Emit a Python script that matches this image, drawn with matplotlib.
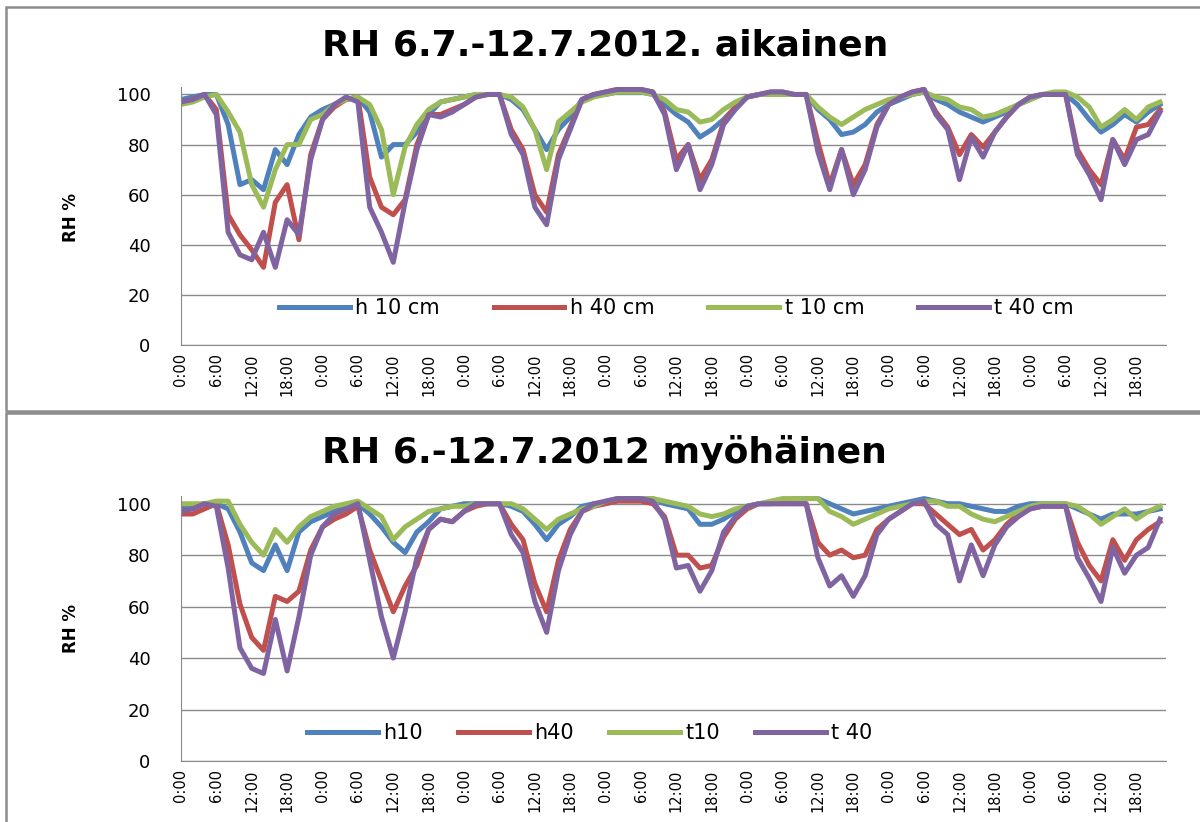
# RH charts, two periods, recreated from the Excel figure

import numpy as np
import matplotlib.pyplot as plt
from matplotlib.patches import Rectangle

# time axis: readings every 2 hours over 7 days
hours = np.arange(0, 168, 2)
tick_hours = np.arange(0, 168, 6)
tick_labels = ['0:00', '6:00', '12:00', '18:00'] * 7

top_title = 'RH 6.7.-12.7.2012. aikainen'
bottom_title = 'RH 6.-12.7.2012 myöhäinen'
top_names = ['h 10 cm', 'h 40 cm', 't 10 cm', 't 40 cm']
bottom_names = ['h10', 'h40', 't10', 't 40']

# top panel (aikainen)
top_h10 = [98, 99, 100, 100, 88, 64, 66, 62, 78, 72, 84, 91, 94, 96, 98, 99, 93, 75, 80, 80, 85, 92, 97, 98, 99, 100, 100, 100,
           98, 94, 86, 78, 86, 91, 98, 100, 100, 101, 101, 101, 100, 96, 92, 89, 83, 86, 90, 95, 99, 100, 100, 100, 100, 100, 94, 90,
           84, 85, 88, 93, 96, 98, 100, 101, 98, 96, 93, 91, 89, 91, 93, 96, 98, 100, 100, 100, 96, 90, 85, 88, 92, 89, 93, 96]
top_h40 = [97, 98, 100, 94, 52, 44, 38, 31, 57, 64, 42, 76, 90, 95, 98, 99, 67, 55, 52, 58, 80, 92, 92, 94, 96, 99, 100, 100,
           86, 78, 60, 53, 76, 87, 98, 100, 101, 102, 102, 102, 101, 93, 74, 80, 66, 74, 89, 95, 99, 100, 101, 101, 100, 100, 81, 64,
           78, 64, 72, 88, 96, 99, 101, 102, 93, 87, 76, 84, 79, 85, 91, 96, 99, 100, 100, 100, 78, 70, 64, 82, 74, 87, 88, 94]
top_t10 = [96, 97, 99, 100, 93, 85, 64, 55, 70, 80, 80, 90, 92, 96, 98, 99, 96, 86, 60, 79, 88, 94, 97, 98, 99, 100, 100, 100,
           99, 95, 86, 70, 89, 93, 97, 99, 100, 101, 101, 101, 100, 98, 94, 93, 89, 90, 94, 97, 99, 100, 100, 100, 100, 100, 95, 91,
           88, 91, 94, 96, 98, 99, 100, 101, 99, 98, 95, 94, 91, 92, 94, 96, 98, 100, 101, 101, 99, 95, 87, 90, 94, 90, 95, 97]
top_t40 = [97, 98, 100, 92, 45, 36, 34, 45, 31, 50, 44, 74, 90, 96, 99, 97, 55, 45, 33, 57, 78, 92, 91, 93, 96, 99, 100, 100,
           84, 76, 55, 48, 74, 86, 98, 100, 101, 102, 102, 102, 101, 92, 70, 80, 62, 72, 88, 94, 99, 100, 101, 101, 100, 100, 77, 62,
           78, 60, 70, 87, 96, 99, 101, 102, 92, 86, 66, 83, 75, 85, 91, 96, 99, 100, 100, 100, 76, 68, 58, 82, 72, 82, 84, 93]

# bottom panel (myöhäinen)
bot_h10 = [98, 99, 100, 100, 98, 89, 77, 74, 84, 74, 89, 93, 95, 97, 99, 100, 96, 91, 85, 81, 89, 93, 98, 99, 100, 100, 100, 100,
           99, 97, 92, 86, 92, 95, 99, 100, 100, 102, 102, 102, 102, 100, 99, 98, 92, 92, 94, 97, 99, 100, 100, 101, 102, 102, 102, 100,
           98, 96, 97, 98, 99, 100, 101, 102, 101, 100, 100, 99, 98, 97, 97, 99, 100, 100, 100, 100, 98, 96, 94, 96, 96, 96, 97, 98]
bot_h40 = [96, 96, 98, 100, 84, 61, 48, 43, 64, 62, 66, 82, 91, 94, 96, 99, 82, 70, 58, 68, 76, 90, 94, 93, 97, 99, 100, 100,
           92, 86, 69, 58, 78, 90, 97, 99, 100, 101, 101, 101, 100, 95, 80, 80, 75, 76, 87, 94, 98, 100, 100, 100, 100, 100, 85, 80,
           82, 79, 80, 90, 94, 97, 100, 100, 96, 92, 88, 90, 82, 86, 92, 96, 98, 99, 99, 99, 85, 76, 70, 86, 78, 86, 90, 93]
bot_t10 = [100, 100, 100, 101, 101, 92, 85, 80, 90, 85, 91, 95, 97, 99, 100, 101, 98, 95, 86, 91, 94, 97, 98, 99, 99, 100, 100, 100,
           100, 98, 94, 90, 94, 96, 98, 99, 101, 102, 102, 102, 102, 101, 100, 99, 96, 95, 96, 98, 99, 100, 101, 102, 102, 102, 102, 97,
           95, 92, 94, 96, 98, 99, 100, 101, 101, 99, 99, 96, 94, 93, 95, 97, 99, 100, 100, 100, 99, 96, 92, 95, 98, 94, 97, 99]
bot_t40 = [97, 98, 100, 99, 75, 44, 36, 34, 55, 35, 56, 80, 91, 96, 98, 100, 78, 56, 40, 58, 79, 90, 94, 93, 97, 100, 100, 100,
           88, 81, 62, 50, 74, 88, 97, 100, 101, 102, 102, 102, 101, 94, 75, 76, 66, 74, 89, 95, 99, 100, 100, 100, 100, 100, 79, 68,
           72, 64, 72, 88, 94, 97, 100, 101, 92, 88, 70, 84, 72, 84, 91, 95, 98, 99, 99, 99, 79, 71, 62, 83, 73, 80, 83, 94]

colors = ['#4F81BD', '#C0504D', '#9BBB59', '#8064A2']
grid_col = '#8a8a8a'

fig = plt.figure(figsize=(12, 8.22), dpi=100)


def draw_panel(rect, series, names, title, title_y, ylabel_y, leg_xy, leg_spacing):
    ax = fig.add_axes(rect)
    for vals, name, c in zip(series, names, colors):
        ax.plot(hours, vals, color=c, lw=3.6, label=name, solid_joinstyle='round')
    ax.set_xlim(0, 167)
    ax.set_ylim(0, 103)
    ax.set_yticks(range(0, 101, 20))
    ax.set_xticks(tick_hours)
    ax.set_xticklabels(tick_labels, rotation=90, fontsize=10.5)
    ax.tick_params(axis='x', length=0, pad=6)
    ax.tick_params(axis='y', length=0, pad=22, labelsize=13)
    ax.yaxis.grid(True, color=grid_col, lw=1)
    ax.set_axisbelow(True)
    for s in ['top', 'right']:
        ax.spines[s].set_visible(False)
    for s in ['left', 'bottom']:
        ax.spines[s].set_color(grid_col)
    ax.legend(loc='center', bbox_to_anchor=leg_xy, ncol=4, frameon=False,
              fontsize=15, handlelength=3.4, handletextpad=0.25,
              columnspacing=leg_spacing)
    fig.text(0.504, title_y, title, ha='center', va='center',
             fontsize=26, fontweight='bold')
    fig.text(0.059, ylabel_y, 'RH %', rotation=90, ha='center', va='center',
             fontsize=12, fontweight='bold')
    return ax


draw_panel([0.1508, 0.5803, 0.8208, 0.3139],
           [top_h10, top_h40, top_t10, top_t40], top_names, top_title,
           0.945, 0.736, (0.503, 0.143), 2.6)
draw_panel([0.1508, 0.0742, 0.8208, 0.3224],
           [bot_h10, bot_h40, bot_t10, bot_t40], bottom_names, bottom_title,
           0.450, 0.236, (0.415, 0.106), 1.7)

# chart area borders
fig.add_artist(Rectangle((0.005, 0.5), 1.2, 0.4915, transform=fig.transFigure,
                         fill=False, edgecolor='#8c8c8c', lw=1.8))
fig.add_artist(Rectangle((0.005, -0.1), 1.2, 0.5976, transform=fig.transFigure,
                         fill=False, edgecolor='#8c8c8c', lw=1.8))

fig.savefig('out.png', dpi=100)
